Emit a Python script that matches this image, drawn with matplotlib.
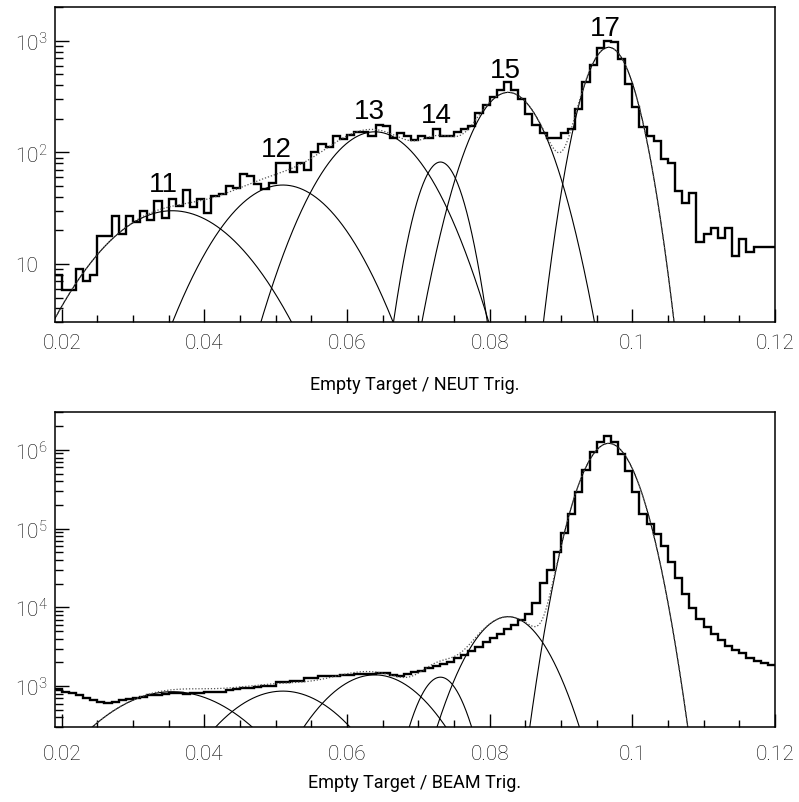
import numpy as np
import matplotlib.pyplot as plt
from matplotlib.ticker import FixedLocator, FuncFormatter, NullFormatter

# 101 bins of width 0.001 covering 0.019 .. 0.120
bin_edges = np.round(np.arange(0.019, 0.1205, 0.001), 4)

neut_counts = [
    8.0, 5.9, 5.9, 9.0, 7.0, 8.0, 17.9, 17.9, 27, 18.7,
    27, 23.6, 29.8, 24.7, 36.8, 25.9, 38.1, 33.2, 46.3, 32.1,
    38.1, 28.7, 40.3, 42.3, 50.1, 47.9, 63.5, 60.9, 51.6, 47.2,
    52.7, 80.2, 80.2, 66.2, 79.7, 69.9, 100, 118.7, 110.9, 139,
    131.6, 142.9, 151, 153, 141, 176, 171, 136, 149, 139,
    130, 141, 133.5, 162, 139, 141, 151, 162, 171, 226,
    265, 313, 364, 427, 364, 303, 220, 175, 149, 134,
    134, 148, 162, 245, 425, 607, 857, 990, 970, 687,
    410, 253, 168, 141, 127, 87, 80, 45, 35, 43,
    15.8, 18.5, 20.8, 17.1, 20.8, 11.8, 16.9, 12.9, 14.1, 14.1,
    14.1,
]

beam_counts = [
    924, 855, 822, 761, 705, 670, 638, 609, 638, 670,
    690, 705, 738, 761, 776, 798, 815, 815, 798, 815,
    822, 839, 855, 855, 881, 924, 944, 961, 970, 990,
    1018, 1124, 1143, 1156, 1178, 1273, 1273, 1362, 1362, 1330,
    1390, 1390, 1432, 1432, 1432, 1462, 1462, 1403, 1362, 1432,
    1503, 1578, 1690, 1792, 1917, 2050, 2250, 2500, 2800, 3150,
    3600, 4100, 4650, 5300, 6000, 6900, 8300, 11500, 20500, 30000,
    51000, 87000, 152000, 292000, 550000, 930000, 1270000, 1500000, 1270000, 880000,
    545000, 290000, 155000, 115000, 85000, 61000, 38000, 23500, 14800, 9750,
    7200, 5700, 4600, 3850, 3270, 2870, 2600, 2300, 2110, 1970,
    1840,
]

# Gaussian components of the fit (same centres and widths for both triggers)
peak_names = ['11', '12', '13', '14', '15', '17']
peak_centers = [0.0355, 0.0510, 0.0639, 0.0731, 0.0826, 0.0967]
peak_sigmas = [0.0078, 0.0065, 0.0057, 0.00256, 0.00393, 0.00272]
neut_amps = [30, 51, 153, 82, 345, 875]
beam_amps = [850, 865, 1390, 1300, 7620, 1.21e6]

plt.rcParams.update({
    'font.family': ['Roboto', 'DejaVu Sans'],
    'font.weight': 'light',
    'axes.linewidth': 1.1,
})

TICK_FONT = 15
LABEL_FONT = 13


def gauss(x, amp, mu, sig):
    return amp * np.exp(-0.5 * ((x - mu) / sig) ** 2)


def log_label(v, pos):
    e = int(round(np.log10(v)))
    if e == 1:
        return '10'
    return r'$\mathregular{10^{%d}}$' % e


def draw_panel(ax, counts, amps, ylim, decades, xlabel, label_y, tick_pad,
               peak_text=None):
    x = np.linspace(0.019, 0.12, 2000)
    total = np.zeros_like(x)
    for a, mu, s in zip(amps, peak_centers, peak_sigmas):
        g = gauss(x, a, mu, s)
        total += g
        ax.plot(x, g, color='black', lw=0.8)
    ax.plot(x, total, color='#555555', lw=0.9, ls=(0, (1, 1.5)))
    ax.stairs(counts, bin_edges, baseline=None, color='black', lw=1.7)

    ax.set_yscale('log')
    ax.set_xlim(0.019, 0.12)
    ax.set_ylim(*ylim)

    ax.xaxis.set_major_locator(FixedLocator([0.02, 0.04, 0.06, 0.08, 0.1, 0.12]))
    ax.xaxis.set_minor_locator(FixedLocator(np.arange(0.025, 0.12, 0.005)))
    ax.xaxis.set_major_formatter(FuncFormatter(lambda v, p: '%g' % round(v, 3)))

    majors = [10.0 ** d for d in decades]
    minors = [m * 10.0 ** d for d in range(decades[0] - 1, decades[-1] + 1)
              for m in range(2, 10)]
    ax.yaxis.set_major_locator(FixedLocator(majors))
    ax.yaxis.set_minor_locator(FixedLocator(minors))
    ax.yaxis.set_major_formatter(FuncFormatter(log_label))
    ax.yaxis.set_minor_formatter(NullFormatter())

    ax.tick_params(which='both', direction='in', top=False, right=False,
                   width=1.0, labelsize=TICK_FONT)
    ax.tick_params(axis='x', which='major', length=9.5, pad=tick_pad)
    ax.tick_params(axis='x', which='minor', length=5)
    ax.tick_params(axis='y', which='major', length=10, pad=28.5)
    ax.tick_params(axis='y', which='minor', length=6)
    for lab in ax.get_yticklabels():
        lab.set_horizontalalignment('left')

    ax.set_xlabel(xlabel, fontsize=LABEL_FONT, va='center')
    ax.xaxis.set_label_coords(0.5, label_y)

    if peak_text:
        for name, (tx, ty) in zip(peak_names, peak_text):
            ax.text(tx, ty, name, ha='center', va='center', fontsize=20,
                    family='Liberation Sans', fontweight='normal')


fig = plt.figure(figsize=(7.99, 8.03), dpi=100)
ax_top = fig.add_axes([0.0683, 0.5974, 0.9016, 0.3923])
ax_bot = fig.add_axes([0.0683, 0.0930, 0.9016, 0.3923])

# peak numbers placed above the top-panel maxima
peak_text = [(0.0342, 52), (0.0501, 107), (0.0632, 235),
             (0.0726, 216), (0.0822, 547), (0.0962, 1303)]

draw_panel(ax_top, neut_counts, neut_amps, (3, 2000), [1, 2, 3],
           'Empty Target / NEUT Trig.', -0.196, 8, peak_text)
draw_panel(ax_bot, beam_counts, beam_amps, (300, 3e6), [3, 4, 5, 6],
           'Empty Target / BEAM Trig.', -0.174, 12)

fig.savefig('out.png', dpi=100)
